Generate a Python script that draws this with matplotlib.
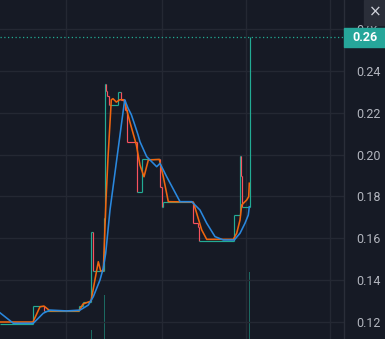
import matplotlib
matplotlib.use("Agg")
import matplotlib.pyplot as plt
from matplotlib.collections import LineCollection
from matplotlib.patches import Rectangle

# price steps (time position, price)
step_t = [0, 33, 44, 79, 83, 91.3, 93.3, 104, 105.3, 105.8, 107, 109.3, 118, 121.3,
          125.3, 127.3, 137, 142, 160, 162, 163, 193.3, 198.3, 199.3, 234.3, 240.3,
          241, 242.3, 249.5]
step_p = [0.1190, 0.1276, 0.1253, 0.1276, 0.1296, 0.1630, 0.1444, 0.1697, 0.2339, 0.2302,
          0.2278, 0.2238, 0.2298, 0.2262, 0.2214, 0.2062, 0.1821, 0.1981, 0.1843, 0.1751,
          0.1772, 0.1672, 0.1656, 0.1588, 0.1709, 0.1993, 0.1898, 0.1751, 0.2562]

# fast average (orange)
fast_t = [0, 33, 40, 44, 50, 79, 83, 91, 98.3, 100.7, 103.3, 106, 108, 111.3, 113, 116.3,
          119.7, 124, 126.3, 129.7, 133, 136.3, 140, 144, 148.3, 159.3, 163.3, 168.3,
          193.3, 196.7, 201.7, 206.7, 233.3, 236.7, 240, 241.7, 246.7, 248.7, 249.3]
fast_p = [0.1200, 0.1200, 0.1273, 0.1276, 0.1253, 0.1253, 0.1286, 0.1300, 0.1488, 0.1444,
          0.1444, 0.1783, 0.1984, 0.2262, 0.2267, 0.2251, 0.2262, 0.2262, 0.2222, 0.2159,
          0.2103, 0.2047, 0.1950, 0.1894, 0.1974, 0.1977, 0.1894, 0.1775, 0.1773, 0.1719,
          0.1640, 0.1595, 0.1595, 0.1624, 0.1687, 0.1759, 0.1783, 0.1799, 0.1863]

# slow average (blue)
slow_t = [0, 13.3, 33.3, 43.3, 50, 66.7, 80, 88.3, 93.3, 100, 103.3, 105.7, 107.7, 110,
          124.7, 128, 131.3, 134.7, 138, 140, 146.7, 156.7, 160, 166.7, 180, 191.7, 200,
          206.7, 215, 223.3, 234.3, 240, 245, 248.3, 249.3]
slow_p = [0.1244, 0.1194, 0.1194, 0.1242, 0.1257, 0.1253, 0.1257, 0.1281, 0.1321, 0.1401,
          0.1458, 0.1528, 0.1624, 0.1735, 0.2262, 0.2222, 0.2191, 0.2143, 0.2095, 0.2061,
          0.1990, 0.1942, 0.1958, 0.1894, 0.1775, 0.1775, 0.1735, 0.1672, 0.1608, 0.1592,
          0.1592, 0.1624, 0.1672, 0.1711, 0.1751]

# volume (relative units)
vol_t = [91.3, 104.3, 249.7]
vol_v = [9, 44, 67]

last_price = 0.2562
yticks = [0.12, 0.14, 0.16, 0.18, 0.20, 0.22, 0.24, 0.26]
vgrid = [66, 162, 246, 330]

bg = "#161a25"
grid_c = "#242833"
teal = "#22ab94"
red = "#f7525f"
orange = "#f0650f"
blue = "#2a88de"

W, H = 385, 339
fig = plt.figure(figsize=(W / 100, H / 100), dpi=100)
fig.patch.set_facecolor(bg)
ax = fig.add_axes([0, 0, 343.5 / W, 1])
ax.set_facecolor(bg)

ax.set_xlim(0, 343.5)
ax.set_ylim(0.11188, 0.27386)

# volume on its own scale
vax = ax.twinx()
vax.set_ylim(0, 339)
vax.bar(vol_t, vol_v, width=0.9, color=teal, alpha=0.55, zorder=1)
vax.axis("off")
ax.set_zorder(vax.get_zorder() + 1)
ax.patch.set_visible(False)
vax.patch.set_visible(True)
vax.patch.set_facecolor(bg)

# step line
segs, cols = [], []
n = len(step_t)
for i in range(n - 1):
    up_next = step_p[i + 1] >= step_p[i]
    down_prev = i > 0 and step_p[i] < step_p[i - 1]
    hcol = red if (down_prev and not up_next) else teal
    segs.append([(step_t[i], step_p[i]), (step_t[i + 1], step_p[i])])
    cols.append(hcol)
    segs.append([(step_t[i + 1], step_p[i]), (step_t[i + 1], step_p[i + 1])])
    cols.append(teal if up_next else red)
ax.add_collection(LineCollection(segs, colors=cols, linewidths=0.85, zorder=3))

ax.plot(fast_t, fast_p, color=orange, lw=1.15, zorder=4)
ax.plot(slow_t, slow_p, color=blue, lw=1.15, zorder=5)

ax.axhline(last_price, color=teal, lw=0.9, ls=(0, (1, 2)), zorder=2)

ax.set_yticks(yticks)
ax.set_yticklabels([f"{v:.2f}" for v in yticks])
ax.yaxis.tick_right()
ax.tick_params(axis="y", length=0, pad=9, labelsize=9, labelcolor="#b2b5be")
for lab in ax.get_yticklabels():
    lab.set_fontfamily("Roboto")
ax.set_xticks(vgrid)
ax.tick_params(axis="x", length=0, labelbottom=False)
ax.grid(True, color=grid_c, lw=1.0)
ax.set_axisbelow(True)
for s in ["top", "bottom", "left"]:
    ax.spines[s].set_visible(False)
ax.spines["right"].set_color("#2a2e39")
ax.spines["right"].set_linewidth(1.0)

# last price tag and close button
fig.patches.append(Rectangle((344 / W, 1 - 46.7 / H), 41 / W, 18.4 / H,
                             transform=fig.transFigure, color="#26a69a", zorder=10))
fig.text(364.5 / W, 1 - 37.5 / H, "0.26", color="white", fontsize=9, fontweight="bold",
         fontfamily="Roboto", ha="center", va="center", zorder=11)
fig.patches.append(Rectangle((364 / W, 1 - 25 / H), 21 / W, 25 / H,
                             transform=fig.transFigure, color="#2a2e39", zorder=10))
fig.text(375.5 / W, 1 - 12.5 / H, "\u00d7", color="#d1d4dc", fontsize=11,
         ha="center", va="center", zorder=11)

fig.savefig("out.png", dpi=100, facecolor=bg)
